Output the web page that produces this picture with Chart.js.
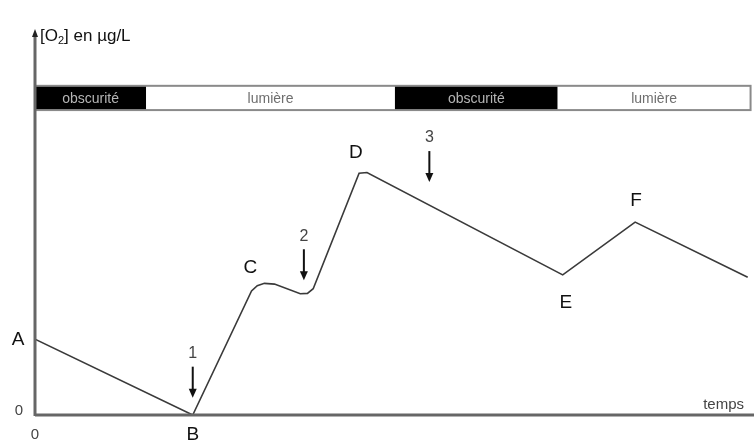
<!DOCTYPE html>
<html>
<head>
<meta charset="utf-8">
<script src="https://cdn.jsdelivr.net/npm/chart.js@4/dist/chart.umd.min.js"></script>
<style>
  html, body { margin: 0; padding: 0; background: #fff; }
  #wrap { width: 754px; height: 441px; }
</style>
</head>
<body>
<div id="wrap"><canvas id="myChart" width="754" height="441"></canvas></div>
<script>
// time (arbitrary units 0..100) and [O2] (arbitrary units 0..100)
var temps = [0, 22.0, 30.2, 31.0, 32.0, 33.4, 37.0, 38.0, 38.8, 45.2, 46.3, 73.6, 83.7, 99.4];
var oxygene = [19.7, 0, 32.2, 33.6, 34.2, 34.0, 31.5, 31.6, 32.8, 62.8, 63.0, 36.4, 50.1, 35.8];

var pointNames = ['A', 'B', 'C', 'D', 'E', 'F'];
var pointTimes = [0, 22.0, 31.3, 46.0, 73.6, 83.7];
var pointValues = [19.7, 0, 34.0, 63.0, 36.4, 50.1];

var phaseNames = ['obscurité', 'lumière', 'obscurité', 'lumière'];
var phaseStart = [0, 15.5, 50.2, 72.9];
var phaseEnd = [15.5, 50.2, 72.9, 99.8];

var arrowNames = ['1', '2', '3'];
var arrowTimes = [22.0, 37.5, 55.0];
var arrowValues = [4.5, 35.0, 60.5];

var decor = {
    id: 'decor',
    afterDatasetsDraw: function (chart) {
        var ctx = chart.ctx, x = chart.scales.x, y = chart.scales.y;
        ctx.save();

        // phase band
        var bTop = y.getPixelForValue(85.5), bBot = y.getPixelForValue(79.2);
        for (var i = 0; i < phaseNames.length; i++) {
            var x0 = x.getPixelForValue(phaseStart[i]), x1 = x.getPixelForValue(phaseEnd[i]);
            var dark = phaseNames[i] === 'obscurité';
            ctx.fillStyle = dark ? '#000' : '#fff';
            ctx.fillRect(x0, bTop, x1 - x0, bBot - bTop);
            ctx.fillStyle = dark ? '#b5b5b5' : '#6e6e6e';
            ctx.font = '14px "Liberation Sans", Arial, sans-serif';
            ctx.textAlign = 'center';
            ctx.textBaseline = 'middle';
            ctx.fillText(phaseNames[i], (x0 + x1) / 2, (bTop + bBot) / 2 + 1);
        }
        ctx.strokeStyle = '#8a8a8a';
        ctx.lineWidth = 2;
        ctx.strokeRect(x.getPixelForValue(0), bTop, x.getPixelForValue(99.8) - x.getPixelForValue(0), bBot - bTop);

        // axes
        var ox = x.getPixelForValue(0), oy = y.getPixelForValue(0);
        ctx.strokeStyle = '#666';
        ctx.lineWidth = 3;
        ctx.beginPath();
        ctx.moveTo(ox, oy + 1);
        ctx.lineTo(ox, y.getPixelForValue(99));
        ctx.moveTo(ox, oy);
        ctx.lineTo(chart.width, oy);
        ctx.stroke();
        ctx.fillStyle = '#222';
        ctx.beginPath();
        ctx.moveTo(ox, y.getPixelForValue(100) - 1);
        ctx.lineTo(ox - 3, y.getPixelForValue(100) + 7);
        ctx.lineTo(ox + 3, y.getPixelForValue(100) + 7);
        ctx.closePath();
        ctx.fill();

        // axis titles
        ctx.fillStyle = '#111';
        ctx.textAlign = 'left';
        ctx.textBaseline = 'alphabetic';
        ctx.font = '17px "Liberation Sans", Arial, sans-serif';
        var tx = ox + 5, ty = y.getPixelForValue(100) + 11;
        ctx.fillText('[O', tx, ty);
        tx += ctx.measureText('[O').width;
        ctx.font = '11px "Liberation Sans", Arial, sans-serif';
        ctx.fillText('2', tx, ty + 3);
        tx += ctx.measureText('2').width;
        ctx.font = '17px "Liberation Sans", Arial, sans-serif';
        ctx.fillText('] en µg/L', tx, ty);

        ctx.fillStyle = '#444';
        ctx.font = '15px "Liberation Sans", Arial, sans-serif';
        ctx.textAlign = 'right';
        ctx.fillText('temps', chart.width - 10, oy - 6);
        ctx.fillText('0', ox - 12, oy);
        ctx.textAlign = 'center';
        ctx.fillText('0', ox, oy + 24);

        // point letters
        var off = { A: [-17, 1], B: [0, 20], C: [-9, -16], D: [-9, -20], E: [3, 28], F: [1, -21] };
        ctx.fillStyle = '#111';
        ctx.font = '19px "Liberation Sans", Arial, sans-serif';
        ctx.textBaseline = 'middle';
        for (var j = 0; j < pointNames.length; j++) {
            var o = off[pointNames[j]];
            ctx.fillText(pointNames[j], x.getPixelForValue(pointTimes[j]) + o[0], y.getPixelForValue(pointValues[j]) + o[1]);
        }

        // numbered arrows
        for (var k = 0; k < arrowNames.length; k++) {
            var ax = x.getPixelForValue(arrowTimes[k]), ay = y.getPixelForValue(arrowValues[k]);
            ctx.strokeStyle = '#111';
            ctx.lineWidth = 2;
            ctx.beginPath();
            ctx.moveTo(ax, ay - 31);
            ctx.lineTo(ax, ay - 6);
            ctx.stroke();
            ctx.fillStyle = '#111';
            ctx.beginPath();
            ctx.moveTo(ax, ay);
            ctx.lineTo(ax - 4, ay - 9);
            ctx.lineTo(ax + 4, ay - 9);
            ctx.closePath();
            ctx.fill();
            ctx.fillStyle = '#444';
            ctx.font = '16px "Liberation Sans", Arial, sans-serif';
            ctx.fillText(arrowNames[k], ax, ay - 44);
        }
        ctx.restore();
    }
};

var ctx = document.getElementById('myChart').getContext('2d');
new Chart(ctx, {
    type: 'line',
    data: {
        datasets: [{
            label: '[O2]',
            data: temps.map(function (t, i) { return { x: t, y: oxygene[i] }; }),
            borderColor: '#3a3a3a',
            borderWidth: 1.6,
            pointRadius: 0,
            fill: false,
            tension: 0
        }]
    },
    options: {
        responsive: false,
        animation: false,
        layout: { padding: { left: 35, right: 2, top: 30, bottom: 26 } },
        plugins: { legend: { display: false }, tooltip: { enabled: false } },
        scales: {
            x: { type: 'linear', min: 0, max: 100, display: false },
            y: { min: 0, max: 100, display: false }
        }
    },
    plugins: [decor]
});
</script>
</body>
</html>
